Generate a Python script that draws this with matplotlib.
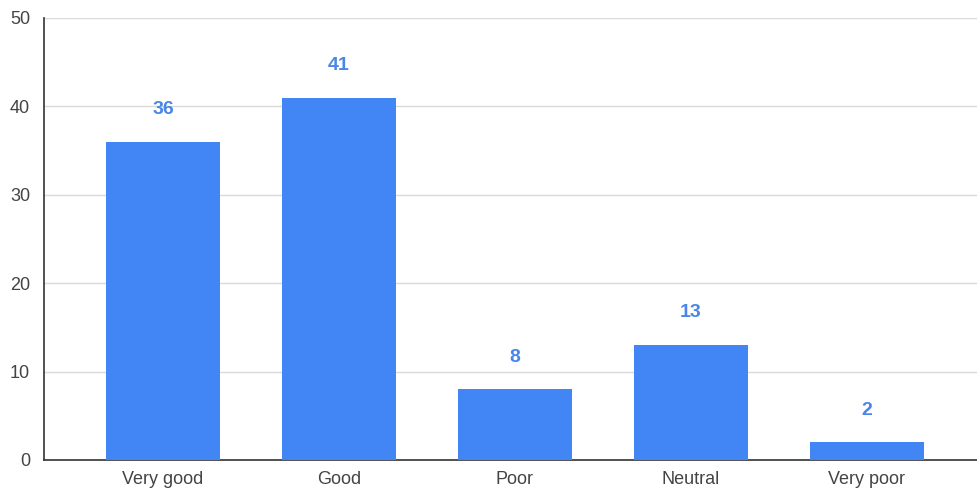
import matplotlib
matplotlib.use("Agg")
import matplotlib.pyplot as plt

categories = ["Very good", "Good", "Poor", "Neutral", "Very poor"]
counts = [36, 41, 8, 13, 2]
y_ticks = [0, 10, 20, 30, 40, 50]

BAR = "#4285F4"
LABEL = "#4A86E8"
GRID = "#D9D9D9"
TEXT = "#444444"

plt.rcParams["font.family"] = ["Liberation Sans", "DejaVu Sans"]

fig = plt.figure(figsize=(9.77, 4.93), dpi=100)
ax = fig.add_axes([0.045, 0.067, 0.955, 0.8965])

x = range(len(categories))
bars = ax.bar(x, counts, width=0.645, color=BAR, zorder=3)

for rect, v in zip(bars, counts):
    ax.annotate(str(v), (rect.get_x() + rect.get_width() / 2, v),
                textcoords="offset points", xytext=(0, 17),
                ha="center", va="bottom", color=LABEL,
                fontsize=14, fontweight="bold", zorder=4)

ax.set_xlim(-0.676, 4.625)
ax.set_ylim(0, 50)
ax.set_yticks(y_ticks)
ax.set_xticks(list(x))
ax.set_xticklabels(categories)
ax.tick_params(axis="both", length=0, labelsize=13, colors=TEXT, pad=8)
ax.tick_params(axis="y", pad=10)

ax.grid(axis="y", color=GRID, linewidth=1, zorder=0)
for side in ("top", "right"):
    ax.spines[side].set_visible(False)
ax.spines["left"].set_color("#333333")
ax.spines["bottom"].set_color("#333333")
ax.spines["left"].set_linewidth(1.2)
ax.spines["bottom"].set_linewidth(1.2)

fig.savefig("out.png", dpi=100, facecolor="white")
